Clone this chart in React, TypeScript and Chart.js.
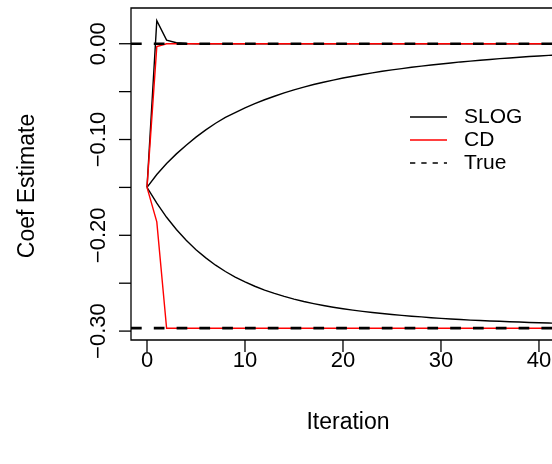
import React, { useEffect, useRef } from "react";
import { Chart, registerables } from "chart.js";
Chart.register(...registerables);

const ITER = [0, 1, 2, 3, 4, 5, 6, 7, 8, 9, 10, 11, 12, 13, 14, 15, 16, 17, 18, 19, 20, 21, 22, 23, 24, 25, 26, 27, 28, 29, 30, 31, 32, 33, 34, 35, 36, 37, 38, 39, 40, 41, 42];

const SLOG_UPPER = [-0.15, -0.1365, -0.125, -0.115, -0.106, -0.0975, -0.09, -0.083, -0.077, -0.072, -0.067, -0.0625, -0.0585, -0.0548, -0.0513, -0.0482, -0.0453, -0.0426, -0.0402, -0.038, -0.0358, -0.0339, -0.0321, -0.0304, -0.0288, -0.0273, -0.026, -0.0246, -0.0234, -0.0222, -0.0212, -0.0201, -0.019, -0.0182, -0.0173, -0.0164, -0.0156, -0.0149, -0.0141, -0.0134, -0.0128, -0.0122, -0.0116];

const SLOG_LOWER = [-0.15, -0.1665, -0.1812, -0.194, -0.2052, -0.215, -0.2236, -0.2312, -0.2378, -0.2436, -0.2487, -0.2532, -0.2572, -0.2607, -0.2638, -0.2666, -0.2691, -0.2713, -0.2733, -0.2751, -0.2767, -0.2781, -0.2794, -0.2806, -0.2817, -0.2827, -0.2836, -0.2845, -0.2852, -0.286, -0.2867, -0.2873, -0.2879, -0.2885, -0.2889, -0.2894, -0.2898, -0.2902, -0.2905, -0.291, -0.2913, -0.2916, -0.2919];

const SLOG_SPIKE = [-0.15, 0.024, 0.0038, 0.001, 0.0002, 0, 0, 0, 0, 0, 0, 0, 0, 0, 0, 0, 0, 0, 0, 0, 0, 0, 0, 0, 0, 0, 0, 0, 0, 0, 0, 0, 0, 0, 0, 0, 0, 0, 0, 0, 0, 0, 0];

const CD_UPPER = [-0.15, -0.003, 0, 0, 0, 0, 0, 0, 0, 0, 0, 0, 0, 0, 0, 0, 0, 0, 0, 0, 0, 0, 0, 0, 0, 0, 0, 0, 0, 0, 0, 0, 0, 0, 0, 0, 0, 0, 0, 0, 0, 0, 0];

const CD_LOWER = [-0.15, -0.186, -0.297, -0.297, -0.297, -0.297, -0.297, -0.297, -0.297, -0.297, -0.297, -0.297, -0.297, -0.297, -0.297, -0.297, -0.297, -0.297, -0.297, -0.297, -0.297, -0.297, -0.297, -0.297, -0.297, -0.297, -0.297, -0.297, -0.297, -0.297, -0.297, -0.297, -0.297, -0.297, -0.297, -0.297, -0.297, -0.297, -0.297, -0.297, -0.297, -0.297, -0.297];

const TRUE_VALUES = [0, -0.297];

const X_TICKS = [0, 10, 20, 30, 40];
const X_TICK_LABELS = ["0", "10", "20", "30", "40"];
const Y_TICKS = [0, -0.05, -0.1, -0.15, -0.2, -0.25, -0.3];
const Y_TICK_LABELS = ["0.00", "", "\u22120.10", "", "\u22120.20", "", "\u22120.30"];
const X_TITLE = "Iteration";
const Y_TITLE = "Coef Estimate";
const LEGEND_LABELS = ["SLOG", "CD", "True"];

const X_MIN = -1.633;
const X_MAX = 41.33;
const Y_MIN = -0.3093;
const Y_MAX = 0.0373;

const AXIS_FONT = "22px 'Liberation Sans', Arial, sans-serif";
const TITLE_FONT = "23px 'Liberation Sans', Arial, sans-serif";
const LEGEND_FONT = "21px 'Liberation Sans', Arial, sans-serif";
const TICK_LEN = 12;

export default function App() {
  const ref = useRef<HTMLCanvasElement>(null);
  useEffect(() => {
    if (!ref.current) return;
    const pts = (ys: number[]) => ITER.map((x, i) => ({ x, y: ys[i] }));
    const truePts = (v: number) => [
      { x: X_MIN, y: v },
      { x: X_MAX, y: v },
    ];

    const rPlugin = {
      id: "rAxes",
      afterDraw(chart: any) {
        const ctx = chart.ctx as CanvasRenderingContext2D;
        const a = chart.chartArea;
        const xs = chart.scales.x;
        const ys = chart.scales.y;
        ctx.save();
        ctx.strokeStyle = "#000";
        ctx.lineWidth = 1.3;
        ctx.setLineDash([]);
        ctx.beginPath();
        ctx.moveTo(a.right + 10, a.top);
        ctx.lineTo(a.left, a.top);
        ctx.lineTo(a.left, a.bottom);
        ctx.lineTo(a.right + 10, a.bottom);
        ctx.stroke();
        ctx.fillStyle = "#000";
        ctx.font = AXIS_FONT;
        ctx.textAlign = "center";
        ctx.textBaseline = "middle";
        X_TICKS.forEach((v, i) => {
          const px = xs.getPixelForValue(v);
          ctx.beginPath();
          ctx.moveTo(px, a.bottom);
          ctx.lineTo(px, a.bottom + TICK_LEN);
          ctx.stroke();
          ctx.fillText(X_TICK_LABELS[i], px, 361);
        });
        Y_TICKS.forEach((v, i) => {
          const py = ys.getPixelForValue(v);
          ctx.beginPath();
          ctx.moveTo(a.left, py);
          ctx.lineTo(a.left - TICK_LEN, py);
          ctx.stroke();
          if (Y_TICK_LABELS[i]) {
            ctx.save();
            ctx.translate(99, py);
            ctx.rotate(-Math.PI / 2);
            ctx.fillText(Y_TICK_LABELS[i], 0, 0);
            ctx.restore();
          }
        });
        ctx.font = TITLE_FONT;
        ctx.fillText(X_TITLE, 348, 423);
        ctx.save();
        ctx.translate(28, 186);
        ctx.rotate(-Math.PI / 2);
        ctx.fillText(Y_TITLE, 0, 0);
        ctx.restore();
        const colors = ["#000", "#ff0000", "#000"];
        const rows = [117, 140, 163];
        ctx.textAlign = "left";
        ctx.font = LEGEND_FONT;
        LEGEND_LABELS.forEach((lab, i) => {
          ctx.strokeStyle = colors[i];
          ctx.lineWidth = 1.3;
          ctx.setLineDash(i === 2 ? [5.3, 6] : []);
          ctx.beginPath();
          ctx.moveTo(410, rows[i]);
          ctx.lineTo(447, rows[i]);
          ctx.stroke();
          ctx.setLineDash([]);
          ctx.fillStyle = "#000";
          ctx.fillText(lab, 464, rows[i]);
        });
        ctx.restore();
      },
    };

    const line = (data: any[], color: string, order: number, width = 1.4, dash: number[] = []) => ({
      data,
      borderColor: color,
      borderWidth: width,
      borderDash: dash,
      borderCapStyle: "butt",
      pointRadius: 0,
      fill: false,
      tension: 0,
      order,
    });

    const chart = new Chart(ref.current, {
      type: "line",
      data: {
        datasets: [
          line(truePts(TRUE_VALUES[0]), "#000", 0, 2.7, [10.7, 12.1]),
          line(truePts(TRUE_VALUES[1]), "#000", 0, 2.7, [10.7, 12.1]),
          line(pts(CD_UPPER), "#ff0000", 1),
          line(pts(CD_LOWER), "#ff0000", 1),
          line(pts(SLOG_SPIKE), "#000", 2),
          line(pts(SLOG_UPPER), "#000", 2),
          line(pts(SLOG_LOWER), "#000", 2),
        ] as any,
      },
      options: {
        animation: false,
        responsive: false,
        layout: { padding: { left: 131, top: 8, right: 0, bottom: 124 } },
        scales: {
          x: { type: "linear", min: X_MIN, max: X_MAX, display: false },
          y: { type: "linear", min: Y_MIN, max: Y_MAX, display: false },
        },
        plugins: { legend: { display: false }, tooltip: { enabled: false } },
      },
      plugins: [rPlugin],
    });
    return () => chart.destroy();
  }, []);
  return (
    <canvas
      ref={ref}
      width={552}
      height={464}
      style={{ position: "fixed", left: 0, top: 0, width: 552, height: 464, background: "#fff" }}
    />
  );
}
